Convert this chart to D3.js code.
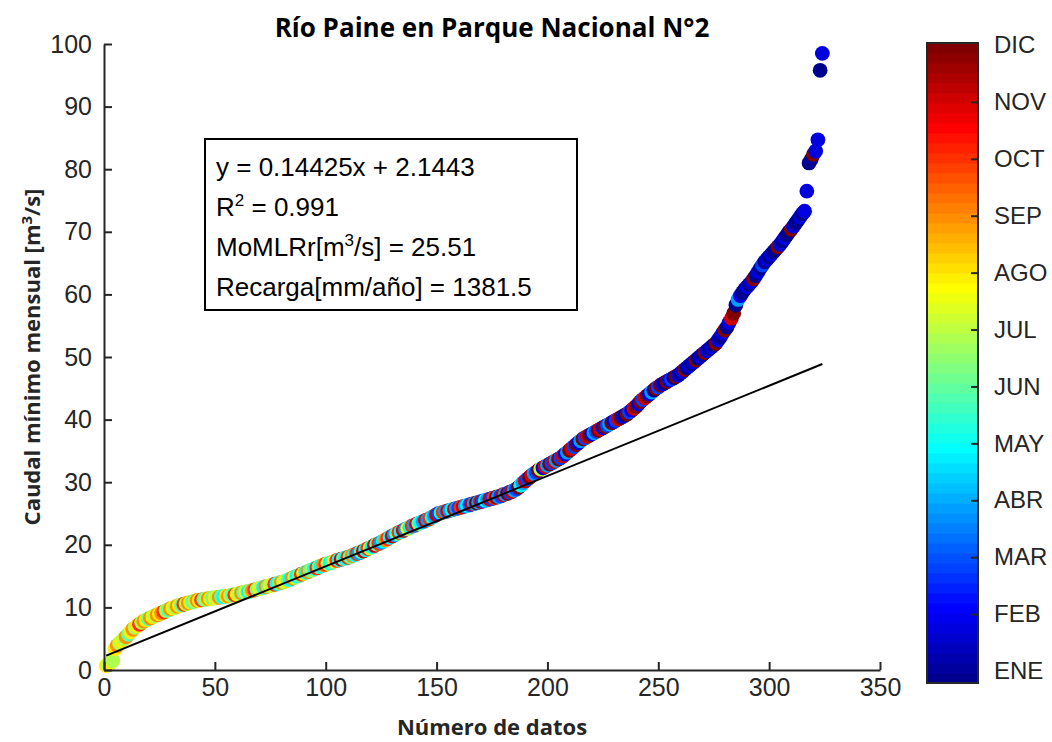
<!DOCTYPE html>
<html><head><meta charset="utf-8">
<script src="https://cdn.jsdelivr.net/npm/d3@7"></script>
<style>body{margin:0;background:#fff}svg{display:block}</style>
</head><body><svg id="c" width="1052" height="742"></svg>
<script>
// Caudal mínimo mensual ordenado (m3/s)
const caudal = [
0.7,0.9,1.2,1.5,3.4,3.9,4.3,4.6,5.0,5.3,
5.7,6.1,6.5,6.8,7.1,7.3,7.6,7.8,8.0,8.2,
8.3,8.5,8.7,8.8,9.0,9.1,9.3,9.5,9.6,9.8,
9.9,10.0,10.2,10.3,10.4,10.5,10.6,10.7,10.8,10.9,
11.0,11.1,11.1,11.2,11.3,11.3,11.4,11.4,11.5,11.5,
11.6,11.6,11.7,11.7,11.8,11.8,11.9,12.0,12.0,12.1,
12.2,12.3,12.4,12.5,12.5,12.6,12.7,12.8,12.9,13.0,
13.1,13.2,13.3,13.4,13.5,13.6,13.7,13.8,13.9,14.0,
14.1,14.2,14.4,14.5,14.7,14.8,15.0,15.1,15.3,15.4,
15.6,15.7,15.9,16.0,16.2,16.3,16.5,16.6,16.8,16.9,
17.0,17.1,17.2,17.4,17.5,17.6,17.7,17.8,17.9,18.0,
18.1,18.3,18.4,18.6,18.7,18.9,19.0,19.2,19.4,19.5,
19.7,19.9,20.1,20.2,20.4,20.6,20.8,21.0,21.2,21.4,
21.6,21.8,22.0,22.1,22.3,22.5,22.6,22.8,23.0,23.1,
23.3,23.4,23.6,23.7,23.9,24.0,24.2,24.4,24.6,24.8,
25.0,25.1,25.2,25.3,25.4,25.5,25.6,25.7,25.8,25.9,
26.0,26.1,26.2,26.3,26.4,26.5,26.6,26.7,26.8,26.9,
27.0,27.1,27.2,27.3,27.4,27.5,27.6,27.7,27.8,28.0,
28.1,28.2,28.4,28.5,28.7,28.9,29.2,29.5,29.9,30.2,
30.5,30.8,31.1,31.4,31.6,31.9,32.1,32.3,32.5,32.7,
32.9,33.1,33.3,33.5,33.7,33.9,34.2,34.5,34.8,35.1,
35.4,35.7,36.0,36.3,36.6,36.9,37.1,37.3,37.5,37.7,
37.9,38.1,38.3,38.5,38.7,38.9,39.1,39.3,39.5,39.7,
39.9,40.1,40.3,40.5,40.7,40.9,41.2,41.5,41.8,42.1,
42.5,42.9,43.2,43.5,43.8,44.1,44.4,44.7,45.0,45.2,
45.5,45.7,45.9,46.1,46.3,46.5,46.7,46.9,47.1,47.4,
47.7,48.0,48.3,48.6,48.9,49.2,49.5,49.8,50.1,50.4,
50.7,51.0,51.3,51.6,51.9,52.2,52.7,53.2,53.8,54.3,
54.8,55.5,56.2,57.0,58.3,59.2,59.8,60.3,60.8,61.2,
61.6,62.0,62.5,63.0,63.6,64.2,64.7,65.2,65.6,66.0,
66.4,66.8,67.2,67.6,68.0,68.5,69.0,69.5,70.0,70.4,
70.9,71.4,71.9,72.4,72.9,73.3,76.5,81.0,81.6,82.4,
82.9,84.7,95.8,98.5
];
// Mes de cada dato (1 = ENE ... 12 = DIC)
const mes = [
8,7,8,7,8,9,7,8,7,9,6,8,
9,7,8,10,7,9,8,6,9,8,7,9,
8,9,10,7,6,9,8,7,9,8,6,10,
7,9,8,6,7,9,8,10,6,7,9,8,
6,8,7,9,6,5,8,9,7,6,10,8,
7,9,6,8,5,7,9,10,6,8,7,5,
9,6,8,7,10,5,6,9,7,8,6,5,
9,7,5,6,10,8,5,9,6,7,5,10,
6,5,9,10,7,5,6,8,10,5,11,6,
5,10,6,9,5,10,4,6,11,5,10,7,
5,11,6,10,4,5,9,10,5,11,4,6,
10,5,11,4,8,5,10,4,11,6,5,4,
11,4,10,5,4,11,3,5,10,4,11,4,
5,11,4,3,10,11,4,5,3,11,4,12,
4,11,3,5,4,11,3,10,12,4,3,11,
4,12,3,11,4,3,12,5,4,11,3,12,
11,4,3,12,7,2,11,4,12,3,11,4,
12,3,11,2,4,12,11,3,12,2,4,12,
3,11,12,2,4,3,12,11,2,12,3,4,
12,2,3,11,12,2,1,12,3,2,11,12,
2,12,3,11,12,2,4,1,12,3,12,2,
1,12,2,3,1,12,2,1,2,12,1,2,
1,2,12,1,2,1,12,2,1,2,1,12,
2,1,2,12,1,2,11,12,1,4,2,1,
1,2,1,2,12,1,2,1,3,1,2,1,
2,1,1,12,2,1,2,1,1,12,2,1,
1,2,1,2,2,1,1,12,2,2,1,2
];
const mesLabels = ["ENE","FEB","MAR","ABR","MAY","JUN","JUL","AGO","SEP","OCT","NOV","DIC"];
const xTicks = [0,50,100,150,200,250,300,350];
const yTicks = [0,10,20,30,40,50,60,70,80,90,100];
const fitSlope = 0.14425, fitIntercept = 2.1443;
const titleText = "Río Paine en Parque Nacional N°2";
const xLabelText = "Número de datos";

const svg = d3.select("#c");
const axisColor = "#262626";
const L = 104, R = 880, T = 44, B = 670;
const x = d3.scaleLinear().domain([0,350]).range([L,R]);
const y = d3.scaleLinear().domain([0,100]).range([B,T]);

// MATLAB jet(64)
function u(j){ if(j<1) return 0; if(j<=16) return j/16; if(j<=31) return 1; if(j<=47) return (48-j)/16; return 0; }
function jetRow(k){ return d3.rgb(255*u(k-24), 255*u(k-8), 255*u(k+8)).toString(); }
const nColors = 64;
const cIndex = d3.scaleLinear().domain([1,12]).range([0,nColors]);
function colorOf(m){ return jetRow(Math.min(nColors, Math.floor(cIndex(m))+1)); }

const data = caudal.map((v,i)=>({n:i+1, v, m:mes[i]}));

// points
svg.append("g").selectAll("circle").data(data).join("circle")
  .attr("cx", d=>x(d.n)).attr("cy", d=>y(d.v)).attr("r", 7.4)
  .attr("fill", d=>colorOf(d.m));

// fit line
const n0 = 1, n1 = caudal.length;
svg.append("line")
  .attr("x1", x(n0)).attr("y1", y(fitSlope*n0+fitIntercept))
  .attr("x2", x(n1)).attr("y2", y(fitSlope*n1+fitIntercept))
  .attr("stroke","#000").attr("stroke-width",2);

// axes
const fontTick = "'Liberation Sans', Arial, sans-serif";
const fontLab = "'Open Sans', 'Noto Sans', sans-serif";
const gx = svg.append("g").attr("transform",`translate(0,${B})`)
  .call(d3.axisBottom(x).tickValues(xTicks).tickSizeInner(-8).tickSizeOuter(0).tickPadding(8).tickFormat(d3.format("d")));
const gy = svg.append("g").attr("transform",`translate(${L},0)`)
  .call(d3.axisLeft(y).tickValues(yTicks).tickSizeInner(-8).tickSizeOuter(0).tickPadding(12).tickFormat(d3.format("d")));
[gx,gy].forEach(g=>{
  g.select(".domain").attr("stroke",axisColor).attr("stroke-width",2);
  g.selectAll(".tick line").attr("stroke",axisColor).attr("stroke-width",2);
  g.selectAll(".tick text").attr("fill",axisColor).style("font-family",fontTick).style("font-size","25px");
});

// title & labels
svg.append("text").attr("x",(L+R)/2).attr("y",37).attr("text-anchor","middle")
  .style("font-family",fontLab).style("font-weight","bold").style("font-size","26px")
  .attr("fill","#000").text(titleText);
svg.append("text").attr("x",(L+R)/2).attr("y",735).attr("text-anchor","middle")
  .style("font-family",fontLab).style("font-weight","bold").style("font-size","22px")
  .attr("fill",axisColor).text(xLabelText);
const yl = svg.append("text").attr("transform",`translate(40,${(T+B)/2}) rotate(-90)`).attr("text-anchor","middle")
  .style("font-family",fontLab).style("font-weight","bold").style("font-size","22px")
  .attr("fill",axisColor);
yl.append("tspan").text("Caudal mínimo mensual [m");
yl.append("tspan").attr("dy",-8).style("font-size","15px").text("3");
yl.append("tspan").attr("dy",8).text("/s]");

// info box
const box = svg.append("g");
box.append("rect").attr("x",205).attr("y",139).attr("width",372).attr("height",171)
  .attr("fill","#fff").attr("stroke","#000").attr("stroke-width",2);
const bx = 216, by0 = 176, dyLine = 40;
const tStyle = t=>t.style("font-family",fontTick).style("font-size","26px").attr("fill","#000");
tStyle(box.append("text").attr("x",bx).attr("y",by0)).text(`y = ${fitSlope}x + ${fitIntercept}`);
const t2 = tStyle(box.append("text").attr("x",bx).attr("y",by0+dyLine));
t2.append("tspan").text("R");
t2.append("tspan").attr("dy",-10).style("font-size","17px").text("2");
t2.append("tspan").attr("dy",10).text(" = 0.991");
const t3 = tStyle(box.append("text").attr("x",bx).attr("y",by0+2*dyLine));
t3.append("tspan").text("MoMLRr[m");
t3.append("tspan").attr("dy",-10).style("font-size","17px").text("3");
t3.append("tspan").attr("dy",10).text("/s] = 25.51");
tStyle(box.append("text").attr("x",bx).attr("y",by0+3*dyLine)).text("Recarga[mm/año] = 1381.5");

// colorbar
const cbL = 927, cbW = 51, cbT = 43, cbB = 683;
const cbY = d3.scaleLinear().domain([0,nColors]).range([cbB,cbT]);
const cb = svg.append("g");
cb.selectAll("rect.c").data(d3.range(nColors)).join("rect").attr("class","c")
  .attr("x",cbL).attr("width",cbW)
  .attr("y",k=>cbY(k+1)).attr("height",k=>cbY(k)-cbY(k+1)+0.5)
  .attr("fill",k=>jetRow(k+1));
cb.append("rect").attr("x",cbL).attr("y",cbT).attr("width",cbW).attr("height",cbB-cbT)
  .attr("fill","none").attr("stroke",axisColor).attr("stroke-width",2);
const cbM = d3.scaleLinear().domain([1,12]).range([671,45]);
const gcb = cb.append("g").attr("transform",`translate(${cbL+cbW},0)`)
  .call(d3.axisRight(cbM).tickValues(d3.range(1,13)).tickSizeInner(-7).tickSizeOuter(0).tickPadding(16).tickFormat(m=>mesLabels[m-1]));
gcb.select(".domain").remove();
gcb.selectAll(".tick line").attr("stroke",axisColor).attr("stroke-width",2);
gcb.selectAll(".tick").filter(m=>m===1||m===12).select("line").remove();
gcb.selectAll(".tick text").attr("fill",axisColor).style("font-family",fontTick).style("font-size","24px");
</script></body></html>
